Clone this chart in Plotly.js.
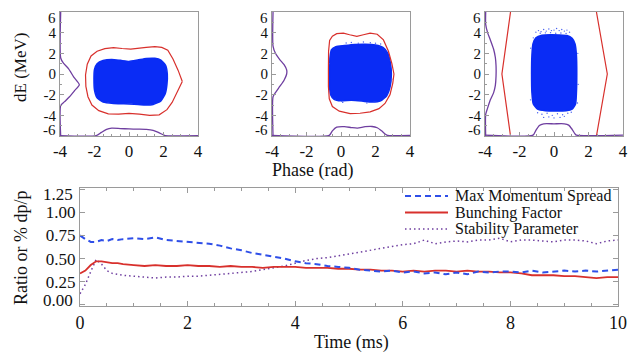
<!DOCTYPE html>
<html>
<head>
<meta charset="utf-8">
<script src="https://cdn.plot.ly/plotly-3.0.1.min.js"></script>
<style>html,body{margin:0;padding:0;background:#fff;}#chart{width:629px;height:353px;}</style>
</head>
<body>
<div id="chart"></div>
<script>
// ---------- Phase-space panels (phase in rad, dE in MeV) ----------
// Panel 1
const sep1Phase = [3.09,2.85,2.55,2.25,1.9,1.5,1.0,0.5,0.1,-0.4,-0.9,-1.4,-1.85,-2.2,-2.42,-2.52,-2.5,-2.38,-2.15,-1.75,-1.2,-0.6,0.0,0.6,1.2,1.75,2.2,2.5,2.8,3.09];
const sep1dE    = [-0.72,0.35,1.45,2.3,2.58,2.64,2.58,2.46,2.41,2.47,2.55,2.45,2.2,1.75,0.95,-0.1,-1.2,-2.2,-3.0,-3.55,-3.85,-3.88,-3.82,-3.88,-4.0,-3.95,-3.45,-2.75,-1.75,-0.72];
const bunch1Phase = [-2.03,-2.0,-1.85,-1.5,-1.0,-0.5,0.0,0.5,1.0,1.5,1.85,2.12,2.22,2.2,2.1,1.85,1.4,0.9,0.3,-0.3,-0.9,-1.5,-1.85,-2.0,-2.03];
const bunch1dE    = [-0.5,0.45,1.0,1.3,1.4,1.32,1.22,1.35,1.5,1.52,1.35,0.85,0.0,-1.0,-1.9,-2.6,-2.95,-3.0,-2.92,-2.88,-2.85,-2.72,-2.3,-1.55,-0.5];
const profE1Amp = [-3.96,-3.96,-3.8,-3.5,-3.2,-2.88,-3.15,-3.45,-3.75,-3.96,-3.96];
const profE1dE  = [6,1.55,1.05,0.5,-0.3,-1.04,-1.6,-2.2,-2.7,-3.06,-6];
const profP1Phase = [-4,-1.9,-1.6,-1.3,-1.0,-0.5,0.0,0.5,1.0,1.4,1.7,2.0,2.1,4];
const profP1Amp   = [-5.96,-5.96,-5.65,-5.35,-5.24,-5.28,-5.32,-5.34,-5.36,-5.45,-5.65,-5.9,-5.96,-5.96];

// Panel 2
const sep2Phase = [3.07,2.95,2.75,2.46,2.1,1.69,1.3,0.92,0.5,0.14,-0.25,-0.5,-0.66,-0.72,-0.73,-0.73,-0.68,-0.5,-0.1,0.53,1.1,1.69,2.2,2.55,2.84,3.0,3.07];
const sep2dE    = [0,1.0,2.2,3.3,3.85,3.96,3.8,3.64,3.8,3.96,3.9,3.65,3.25,2.2,0.5,-1.2,-2.4,-3.15,-3.6,-3.83,-3.8,-3.67,-3.35,-2.85,-2.0,-0.9,0];
const bunch2Phase = [-0.66,-0.64,-0.55,-0.3,0.2,0.8,1.4,2.0,2.45,2.72,2.87,2.92,2.85,2.65,2.3,1.8,1.2,0.6,0.0,-0.4,-0.6,-0.67,-0.66];
const bunch2dE    = [0.3,1.6,2.35,2.65,2.75,2.85,2.88,2.8,2.55,2.0,1.0,0.0,-1.2,-2.1,-2.6,-2.72,-2.62,-2.55,-2.6,-2.45,-2.0,-1.0,0.3];
const halo2Phase = [0.3,0.6,1.0,1.3,1.7,2.0,2.3,-0.7,2.95,0.1,1.5];
const halo2dE    = [3.0,3.05,2.98,3.1,3.02,2.98,2.9,1.0,-0.5,-2.75,-2.8];
const profE2Amp = [-3.94,-3.94,-3.8,-3.55,-3.3,-3.15,-3.15,-3.3,-3.55,-3.8,-3.94,-3.94];
const profE2dE  = [6,2.7,2.0,1.4,0.9,0.4,0.0,-0.6,-1.2,-1.8,-2.2,-6];
const profP2Phase = [-4,-0.68,-0.5,-0.25,0.2,0.6,0.95,1.4,1.8,2.1,2.35,2.6,2.7,4];
const profP2Amp   = [-5.94,-5.94,-5.5,-5.15,-5.1,-5.18,-5.23,-5.1,-5.08,-5.2,-5.5,-5.85,-5.94,-5.94];

// Panel 3
const sep3Phase = [-2.52,-3.02,-2.52,null,2.46,3.09,2.46];
const sep3dE    = [6,0,-6,null,6,0,-6];
const bunch3Phase = [-1.3,-1.28,-1.22,-1.05,-0.7,-0.2,0.3,0.75,1.05,1.22,1.3,1.32,1.3,1.25,1.05,0.7,0.1,-0.5,-0.95,-1.2,-1.28,-1.3];
const bunch3dE    = [0,1.8,2.9,3.5,3.75,3.8,3.78,3.72,3.45,2.9,1.8,0,-1.8,-2.9,-3.4,-3.55,-3.57,-3.55,-3.4,-2.9,-1.8,0];
const halo3Phase = [-1.05,-0.9,-0.75,-0.6,-0.45,-0.3,-0.15,0,0.15,0.3,0.45,0.6,0.75,0.9,-0.8,-0.5,-0.2,0.1,0.4,0.7,-1.2,-1.35,-1.36,1.38,1.4,1.36,-0.95,-0.7,-0.4,-0.1,0.2,0.5,0.8,1.0,-0.6,-0.3,0.0,0.35,0.6];
const halo3dE    = [4.05,4.2,4.1,4.3,4.15,4.35,4.2,4.25,4.4,4.2,4.3,4.15,4.25,4.05,3.95,3.98,4.0,3.95,3.97,3.93,3.5,2.5,-2.5,2.0,-1.0,-2.8,-3.75,-3.9,-3.8,-4.0,-3.85,-3.95,-3.8,-3.7,-4.2,-4.15,-4.25,-4.2,-4.1];
const profE3Amp = [-3.96,-3.96,-3.85,-3.69,-3.5,-3.4,-3.36,-3.36,-3.4,-3.5,-3.69,-3.85,-3.96,-3.96];
const profE3dE  = [6,4.8,4.0,3.3,2.4,1.6,0.8,-0.2,-1.1,-1.8,-2.5,-3.3,-3.9,-6];
const profP3Phase = [-4,-1.22,-1.05,-0.85,-0.6,0.0,0.6,0.85,1.05,1.22,1.3,4];
const profP3Amp   = [-5.92,-5.92,-5.45,-4.98,-4.82,-4.82,-4.82,-4.95,-5.35,-5.8,-5.92,-5.92];

// ---------- Time evolution ----------
const timeMs = [0,0.1,0.2,0.3,0.4,0.5,0.6,0.7,0.8,1.0,1.2,1.4,1.6,1.8,2.0,2.2,2.4,2.6,2.8,3.0,3.2,3.4,3.6,3.8,4.0,4.2,4.4,4.6,4.8,5.0,5.2,5.4,5.6,5.8,6.0,6.2,6.4,6.6,6.8,7.0,7.2,7.4,7.6,7.8,8.0,8.2,8.4,8.6,8.8,9.0,9.2,9.4,9.6,9.8,10.0];
const maxMomentumSpread = [0.75,0.71,0.68,0.68,0.70,0.69,0.71,0.70,0.71,0.72,0.71,0.73,0.70,0.69,0.68,0.67,0.66,0.64,0.61,0.59,0.56,0.54,0.52,0.50,0.47,0.45,0.44,0.42,0.41,0.40,0.38,0.37,0.36,0.37,0.35,0.36,0.34,0.35,0.33,0.35,0.33,0.36,0.35,0.36,0.36,0.35,0.37,0.35,0.36,0.37,0.36,0.37,0.36,0.37,0.38];
const bunchingFactor = [0.34,0.37,0.43,0.47,0.47,0.46,0.45,0.45,0.44,0.43,0.42,0.43,0.42,0.42,0.43,0.42,0.42,0.41,0.42,0.41,0.41,0.40,0.41,0.41,0.41,0.40,0.40,0.40,0.39,0.39,0.38,0.38,0.37,0.37,0.36,0.37,0.36,0.37,0.37,0.36,0.37,0.36,0.36,0.35,0.35,0.34,0.32,0.32,0.32,0.31,0.31,0.30,0.29,0.30,0.30];
const stabilityParameter = [0.12,0.22,0.36,0.49,0.44,0.37,0.34,0.33,0.32,0.31,0.30,0.29,0.30,0.30,0.31,0.31,0.32,0.33,0.34,0.35,0.36,0.38,0.40,0.42,0.45,0.48,0.50,0.51,0.53,0.55,0.57,0.59,0.61,0.63,0.65,0.66,0.70,0.66,0.68,0.69,0.68,0.70,0.70,0.72,0.68,0.70,0.70,0.69,0.68,0.70,0.70,0.69,0.66,0.69,0.70];

const seriesNames = ['Max Momentum Spread','Bunching Factor','Stability Parameter'];
const phaseTicks = [-4,-2,0,2,4];
const dETicks = [-6,-4,-2,0,2,4,6];
const ratioTicks = [0,0.25,0.5,0.75,1.0,1.25];
const timeTicks = [0,2,4,6,8,10];

// ---------- styling ----------
const W = 629, H = 353;
const FONT = 'Liberation Serif, Times New Roman, serif';
const TXT = '#111';
const FRAME = '#9a9a9a';
const RED = '#d8302c', BLUE = '#0a2cf5', LBLUE = '#2f4fe8', PURPLE = '#6f3fa0';
const px = x => x / W, py = y => 1 - y / H;

const traces = [];
const panels = [
  {sx:sep1Phase, sy:sep1dE, bx:bunch1Phase, by:bunch1dE, hx:null, hy:null, ex:profE1Amp, ey:profE1dE, qx:profP1Phase, qy:profP1Amp},
  {sx:sep2Phase, sy:sep2dE, bx:bunch2Phase, by:bunch2dE, hx:halo2Phase, hy:halo2dE, ex:profE2Amp, ey:profE2dE, qx:profP2Phase, qy:profP2Amp},
  {sx:sep3Phase, sy:sep3dE, bx:bunch3Phase, by:bunch3dE, hx:halo3Phase, hy:halo3dE, ex:profE3Amp, ey:profE3dE, qx:profP3Phase, qy:profP3Amp}
];
panels.forEach((p, i) => {
  const xa = i === 0 ? 'x' : 'x' + (i + 1), ya = i === 0 ? 'y' : 'y' + (i + 1);
  traces.push({x:p.bx, y:p.by, xaxis:xa, yaxis:ya, mode:'lines', fill:'toself', fillcolor:BLUE,
               line:{color:BLUE, width:1.5, shape:'spline', smoothing:0.5}, hoverinfo:'skip', showlegend:false});
  if (p.hx) traces.push({x:p.hx, y:p.hy, xaxis:xa, yaxis:ya, mode:'markers',
               marker:{color:'#4a62f0', size:1.4}, hoverinfo:'skip', showlegend:false});
  traces.push({x:p.sx, y:p.sy, xaxis:xa, yaxis:ya, mode:'lines', line:{color:RED, width:1.2},
               connectgaps:false, hoverinfo:'skip', showlegend:false});
  traces.push({x:p.ex, y:p.ey, xaxis:xa, yaxis:ya, mode:'lines', line:{color:PURPLE, width:1.3, shape:'spline', smoothing:0.6},
               hoverinfo:'skip', showlegend:false});
  traces.push({x:p.qx, y:p.qy, xaxis:xa, yaxis:ya, mode:'lines', line:{color:PURPLE, width:1.3, shape:'spline', smoothing:0.6},
               hoverinfo:'skip', showlegend:false});
});

const dotStyle = {color:PURPLE, width:1.5, dash:'1.5px,3px'};
const dashStyle = {color:LBLUE, width:2, dash:'6px,4px'};
const solidStyle = {color:RED, width:1.8, dash:'solid'};
traces.push({x:timeMs, y:stabilityParameter, xaxis:'x4', yaxis:'y4', mode:'lines', name:seriesNames[2], line:dotStyle, showlegend:false});
traces.push({x:timeMs, y:bunchingFactor, xaxis:'x4', yaxis:'y4', mode:'lines', name:seriesNames[1], line:solidStyle, showlegend:false});
traces.push({x:timeMs, y:maxMomentumSpread, xaxis:'x4', yaxis:'y4', mode:'lines', name:seriesNames[0], line:dashStyle, showlegend:false});

function topX(dom) {
  return {domain:[px(dom[0]), px(dom[1])], range:[-4,4], showline:true, linecolor:FRAME, linewidth:1, mirror:true,
    showgrid:false, zeroline:false, ticks:'inside', ticklen:4, tickcolor:FRAME, tickvals:phaseTicks,
    ticktext:phaseTicks.map(v => String(v)), tickfont:{family:FONT, size:17, color:TXT},
    minor:{dtick:0.5, ticks:'inside', ticklen:2, tickcolor:FRAME}, fixedrange:true};
}
function topY(anchor) {
  return {domain:[py(136), py(12)], range:[-6,6], anchor:anchor, showline:true, linecolor:FRAME, linewidth:1, mirror:true,
    showgrid:false, zeroline:false, ticks:'inside', ticklen:4, tickcolor:FRAME, tickvals:dETicks,
    ticktext:dETicks.map(v => (v === 6 || v === -6) ? '' : String(v)), tickfont:{family:FONT, size:15, color:TXT},
    minor:{dtick:1, ticks:'inside', ticklen:2, tickcolor:FRAME}, fixedrange:true};
}
const boxes = [[60,198],[272,410],[485,623]];

const annotations = [];
// end labels (drawn just inside the frame, as in the original)
boxes.forEach((b, i) => {
  const ya = i === 0 ? 'y' : 'y' + (i + 1);
  annotations.push({text:String(dETicks[6]), xref:'paper', x:px(b[0]-2), xanchor:'right', yref:ya, y:6, yanchor:'middle', yshift:-6, showarrow:false, font:{family:FONT, size:15, color:TXT}});
  annotations.push({text:String(dETicks[0]), xref:'paper', x:px(b[0]-2), xanchor:'right', yref:ya, y:-6, yanchor:'middle', yshift:6, showarrow:false, font:{family:FONT, size:15, color:TXT}});
});
annotations.push({text:ratioTicks[5].toFixed(2), xref:'paper', x:px(75), xanchor:'right', yref:'y4', y:1.25, yanchor:'middle', yshift:-5, showarrow:false, font:{family:FONT, size:17, color:TXT}});
annotations.push({text:ratioTicks[0].toFixed(2), xref:'paper', x:px(75), xanchor:'right', yref:'y4', y:0, yanchor:'middle', yshift:4, showarrow:false, font:{family:FONT, size:17, color:TXT}});
// axis titles
annotations.push({text:'dE (MeV)', xref:'paper', yref:'paper', x:px(21), y:py(68), textangle:-90, showarrow:false, xanchor:'center', yanchor:'middle', font:{family:FONT, size:17, color:TXT}});
annotations.push({text:'Phase (rad)', xref:'paper', yref:'paper', x:px(312), y:py(170), showarrow:false, xanchor:'center', yanchor:'middle', font:{family:FONT, size:18, color:TXT}});
annotations.push({text:'Time (ms)', xref:'paper', yref:'paper', x:px(351), y:py(342), showarrow:false, xanchor:'center', yanchor:'middle', font:{family:FONT, size:18, color:TXT}});
annotations.push({text:'Ratio or % dp/p', xref:'paper', yref:'paper', x:px(21), y:py(248), textangle:-90, showarrow:false, xanchor:'center', yanchor:'middle', font:{family:FONT, size:18, color:TXT}});

// legend (compact, inside the lower panel)
const legRows = [196, 212.5, 229];
const legStyles = [dashStyle, solidStyle, dotStyle];
const shapes = [];
seriesNames.forEach((n, i) => {
  shapes.push({type:'line', xref:'paper', yref:'paper', x0:px(405), x1:px(448), y0:py(legRows[i]), y1:py(legRows[i]), line:legStyles[i]});
  annotations.push({text:n, xref:'paper', yref:'paper', x:px(453), y:py(legRows[i]), xanchor:'left', yanchor:'middle', showarrow:false, font:{family:FONT, size:16, color:TXT}});
});

const layout = {
  width:W, height:H, margin:{l:0, r:0, t:0, b:0}, paper_bgcolor:'#fff', plot_bgcolor:'#fff', showlegend:false,
  xaxis: Object.assign(topX(boxes[0]), {anchor:'y'}),
  yaxis: topY('x'),
  xaxis2: Object.assign(topX(boxes[1]), {anchor:'y2'}),
  yaxis2: topY('x2'),
  xaxis3: Object.assign(topX(boxes[2]), {anchor:'y3'}),
  yaxis3: topY('x3'),
  xaxis4: {domain:[px(80), px(618)], range:[0,10], anchor:'y4', showline:true, linecolor:FRAME, linewidth:1, mirror:'allticks',
    showgrid:false, zeroline:false, ticks:'inside', ticklen:5, tickcolor:FRAME, tickvals:timeTicks,
    ticktext:timeTicks.map(v => String(v)), tickfont:{family:FONT, size:18, color:TXT},
    minor:{dtick:0.5, ticks:'inside', ticklen:3, tickcolor:FRAME}, fixedrange:true},
  yaxis4: {domain:[py(306), py(188)], range:[-0.012,1.262], anchor:'x4', showline:true, linecolor:FRAME, linewidth:1, mirror:'allticks',
    showgrid:false, zeroline:false, ticks:'inside', ticklen:5, tickcolor:FRAME, tickvals:ratioTicks,
    ticktext:ratioTicks.map(v => (v === 0 || v === 1.25) ? '' : v.toFixed(2)), tickfont:{family:FONT, size:17, color:TXT}, fixedrange:true},
  annotations: annotations,
  shapes: shapes
};

Plotly.newPlot('chart', traces, layout, {staticPlot:true, displayModeBar:false});
</script>
</body>
</html>
